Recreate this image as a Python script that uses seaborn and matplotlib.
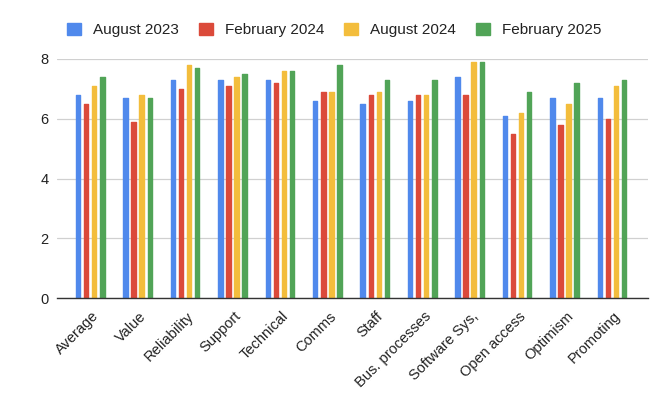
import matplotlib
matplotlib.use("Agg")
import matplotlib.pyplot as plt
import matplotlib.transforms as mtransforms
from matplotlib.patches import Patch
import seaborn as sns
import pandas as pd

categories = ["Average", "Value", "Reliability", "Support", "Technical", "Comms",
              "Staff", "Bus. processes", "Software Sys,", "Open access",
              "Optimism", "Promoting"]
periods = ["August 2023", "February 2024", "August 2024", "February 2025"]

aug_2023 = [6.8, 6.7, 7.3, 7.3, 7.3, 6.6, 6.5, 6.6, 7.4, 6.1, 6.7, 6.7]
feb_2024 = [6.5, 5.9, 7.0, 7.1, 7.2, 6.9, 6.8, 6.8, 6.8, 5.5, 5.8, 6.0]
aug_2024 = [7.1, 6.8, 7.8, 7.4, 7.6, 6.9, 6.9, 6.8, 7.9, 6.2, 6.5, 7.1]
feb_2025 = [7.4, 6.7, 7.7, 7.5, 7.6, 7.8, 7.3, 7.3, 7.9, 6.9, 7.2, 7.3]

y_ticks = [0, 2, 4, 6, 8]
colors = ["#5089ec", "#db4a3a", "#f3bd3c", "#51a457"]

series = [aug_2023, feb_2024, aug_2024, feb_2025]
df = pd.DataFrame({
    "category": [c for s in series for c in categories],
    "period": [p for p, s in zip(periods, series) for _ in s],
    "score": [v for s in series for v in s],
})

sns.set_theme(style="white")
plt.rcParams["font.family"] = ["Liberation Sans", "DejaVu Sans"]

fig = plt.figure(figsize=(6.54, 3.93), dpi=100)
fig.patch.set_facecolor("white")
ax = fig.add_axes([57 / 654, 1 - 298 / 393, (648 - 57) / 654, (298 - 59) / 393])

sns.barplot(data=df, x="category", y="score", hue="period", order=categories,
            hue_order=periods, palette=colors, width=0.68, gap=0.45,
            legend=False, ax=ax, saturation=1)

for bar in ax.patches:
    bar.set_edgecolor(bar.get_facecolor())
    bar.set_linewidth(1.0)
    bar.set_joinstyle("round")

ax.set_xlim(-0.70, 11.76)
ax.set_ylim(0, 8)
ax.set_yticks(y_ticks)
ax.set_xlabel("")
ax.set_ylabel("")
ax.grid(axis="y", color="#d0d0d0", linewidth=0.9)
ax.set_axisbelow(True)
for side in ["top", "right", "left"]:
    ax.spines[side].set_visible(False)
ax.spines["bottom"].set_color("#333333")
ax.spines["bottom"].set_linewidth(1.0)
ax.tick_params(axis="y", length=0, pad=6, labelsize=10.5, labelcolor="#222222")
ax.tick_params(axis="x", length=0, pad=8, labelsize=10.5, labelcolor="#222222")

offset = mtransforms.ScaledTranslation(1 / 72, 0, fig.dpi_scale_trans)
for lab in ax.get_xticklabels():
    lab.set_rotation(45)
    lab.set_ha("right")
    lab.set_va("top")
    lab.set_rotation_mode("anchor")
    lab.set_transform(lab.get_transform() + offset)

handles = [Patch(facecolor=c, edgecolor=c) for c in colors]
fig.legend(handles, periods, loc="center", bbox_to_anchor=(0.511, 1 - 30 / 393),
           ncol=4, frameon=False, fontsize=11, handlelength=0.9,
           handleheight=0.9, handletextpad=0.8, columnspacing=1.3,
           labelcolor="#222222")

fig.savefig("out.png", dpi=100, facecolor="white")
